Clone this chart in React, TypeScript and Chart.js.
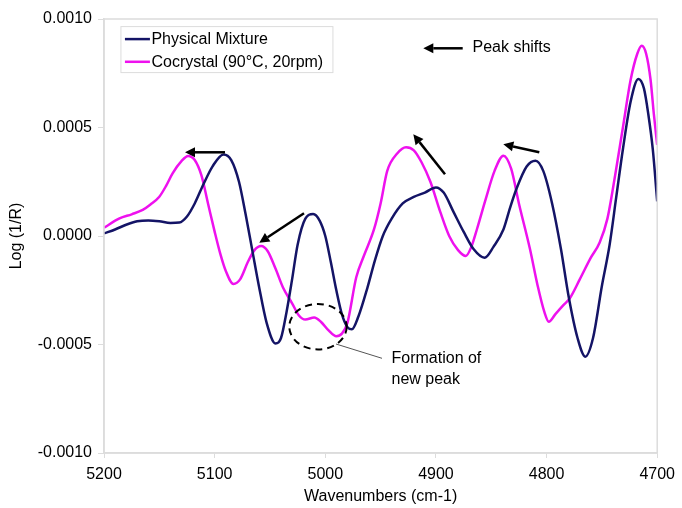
import React, { useEffect, useRef } from "react";
import { Chart, registerables } from "chart.js";

Chart.register(...registerables);

const mixtureWavenumbers = [
  5200, 5190, 5180, 5170, 5160, 5150, 5140, 5132, 5125, 5118, 5110, 5102, 5092, 5085, 5078, 5072, 5066, 5060, 5053,
  5045, 5040, 5035, 5030, 5025, 5018, 5011, 5005, 5000, 4995, 4990, 4985, 4980, 4976, 4970, 4962, 4955, 4948, 4940,
  4930, 4920, 4910, 4900, 4893, 4884, 4875, 4866, 4856, 4848, 4839, 4833, 4827, 4818, 4810, 4803, 4795, 4787, 4780,
  4772, 4765, 4758, 4750, 4743, 4737, 4731, 4724, 4717, 4712, 4708, 4704, 4700,
];
const mixtureValues = [
  0.000012, 0.00003, 0.000052, 0.000068, 0.000072, 0.000068, 0.00006, 0.000062, 0.00009, 0.00015, 0.00024, 0.00032,
  0.000376, 0.00035, 0.00025, 0.0001, -0.000065, -0.00023, -0.0004, -0.000495, -0.00047, -0.00035, -0.0002, -0.00004,
  0.00008, 0.000101, 0.00007, 0.0, -0.00012, -0.00025, -0.00036, -0.00042, -0.00043, -0.00037, -0.00024, -0.00011,
  0.0, 0.00008, 0.00015, 0.00018, 0.0002, 0.000224, 0.0002, 0.00011, 0.00002, -0.00006, -0.0001, -0.00005, 0.00003,
  0.00013, 0.00022, 0.00032, 0.000347, 0.0003, 0.00015, -0.00006, -0.00028, -0.00047, -0.000556, -0.00047, -0.00023,
  -0.00004, 0.00018, 0.0004, 0.00062, 0.000724, 0.00068, 0.00056, 0.0004, 0.00016,
];

const cocrystalWavenumbers = [
  5200, 5186, 5175, 5165, 5158, 5150, 5144, 5138, 5130, 5124, 5118, 5112, 5106, 5100, 5095, 5090, 5083, 5077, 5070,
  5064, 5058, 5052, 5045, 5038, 5030, 5024, 5018, 5010, 5004, 4997, 4990, 4985, 4980, 4972, 4965, 4956, 4950, 4944,
  4935, 4927, 4920, 4913, 4905, 4896, 4888, 4880, 4873, 4868, 4863, 4855, 4847, 4839, 4832, 4825, 4815, 4808, 4802,
  4798, 4792, 4785, 4779, 4770, 4760, 4752, 4745, 4738, 4731, 4724, 4718, 4714, 4710, 4706, 4703, 4700,
];
const cocrystalValues = [
  0.000038, 0.000081, 0.0001, 0.00012, 0.000145, 0.000181, 0.00023, 0.000289, 0.000345, 0.000369, 0.00035, 0.00028,
  0.00015, 0.00002, -0.00008, -0.00016, -0.000221, -0.0002, -0.00012, -0.000065, -0.000046, -0.00007, -0.00015,
  -0.00024, -0.00031, -0.000365, -0.000385, -0.000375, -0.000395, -0.000435, -0.000462, -0.00045, -0.0004, -0.00019,
  -0.00009, 0.00003, 0.00015, 0.0003, 0.00038, 0.000409, 0.000395, 0.00034, 0.00025, 0.00011, 0.0, -0.000065,
  -0.000092, -0.00005, 0.00003, 0.00017, 0.0003, 0.00037, 0.00031, 0.00015, -0.00006, -0.00023, -0.00035, -0.000395,
  -0.00036, -0.00032, -0.000287, -0.0002, -0.0001, -0.00003, 0.00008, 0.00028, 0.0005, 0.00072, 0.00084, 0.000877,
  0.00084, 0.00072, 0.00056, 0.00042,
];

const seriesNames = ["Physical Mixture", "Cocrystal (90°C, 20rpm)"];
const xTicks = [5200, 5100, 5000, 4900, 4800, 4700];
const yTicks = [-0.001, -0.0005, 0, 0.0005, 0.001];
const xTitle = "Wavenumbers (cm-1)";
const yTitle = "Log (1/R)";
const peakShiftLabel = "Peak shifts";
const newPeakLabel = ["Formation of", "new peak"];

const BLUE = "#141466";
const MAGENTA = "#ee11ee";
const FONT = "Liberation Sans, Arial, sans-serif";

function arrow(ctx: CanvasRenderingContext2D, x1: number, y1: number, x2: number, y2: number) {
  const ang = Math.atan2(y2 - y1, x2 - x1);
  const head = 10;
  const bx = x2 - head * Math.cos(ang);
  const by = y2 - head * Math.sin(ang);
  ctx.save();
  ctx.strokeStyle = "#000";
  ctx.fillStyle = "#000";
  ctx.lineWidth = 2.5;
  ctx.beginPath();
  ctx.moveTo(x1, y1);
  ctx.lineTo(bx, by);
  ctx.stroke();
  ctx.beginPath();
  ctx.moveTo(x2, y2);
  ctx.lineTo(bx + 5 * Math.sin(ang), by - 5 * Math.cos(ang));
  ctx.lineTo(bx - 5 * Math.sin(ang), by + 5 * Math.cos(ang));
  ctx.closePath();
  ctx.fill();
  ctx.restore();
}

const annotationPlugin = {
  id: "annotations",
  afterDraw(chart: any) {
    const ctx: CanvasRenderingContext2D = chart.ctx;
    const xs = chart.scales.x;
    const ys = chart.scales.y;
    const X = (v: number) => xs.getPixelForValue(v);
    const Y = (v: number) => ys.getPixelForValue(v);
    const area = chart.chartArea;

    // plot border
    ctx.save();
    ctx.strokeStyle = "#dcdcdc";
    ctx.lineWidth = 1.5;
    ctx.strokeRect(area.left, area.top, area.right - area.left, area.bottom - area.top);
    ctx.restore();

    // legend
    ctx.save();
    const lx = X(5184.7), ly = Y(0.000965);
    const lw = 212, lh = 46;
    ctx.fillStyle = "#fff";
    ctx.fillRect(lx, ly, lw, lh);
    ctx.strokeStyle = "#dcdcdc";
    ctx.lineWidth = 1;
    ctx.strokeRect(lx, ly, lw, lh);
    ctx.font = `16px ${FONT}`;
    ctx.textBaseline = "middle";
    const colors = [BLUE, MAGENTA];
    seriesNames.forEach((name, i) => {
      const cy = ly + 12.5 + i * 22.7;
      ctx.strokeStyle = colors[i];
      ctx.lineWidth = 2.5;
      ctx.beginPath();
      ctx.moveTo(lx + 4, cy);
      ctx.lineTo(lx + 29, cy);
      ctx.stroke();
      ctx.fillStyle = "#000";
      ctx.fillText(name, lx + 30.5, cy + 0.5);
    });
    ctx.restore();

    // arrows
    arrow(ctx, 225, 152.3, 185, 152.3);
    arrow(ctx, 304, 213.3, 259.3, 242.7);
    arrow(ctx, 445, 174.3, 413.3, 134.3);
    arrow(ctx, 539.3, 152.3, 503.3, 144.3);
    arrow(ctx, 462.7, 48.3, 423.3, 48.3);

    ctx.save();
    ctx.fillStyle = "#000";
    ctx.font = `16px ${FONT}`;
    ctx.textBaseline = "middle";
    ctx.fillText(peakShiftLabel, 472.5, 48);

    // dashed ellipse
    ctx.strokeStyle = "#000";
    ctx.lineWidth = 2;
    ctx.setLineDash([7, 5]);
    ctx.beginPath();
    ctx.ellipse(318, 326.7, 28.7, 22.7, 0, 0, Math.PI * 2);
    ctx.stroke();
    ctx.setLineDash([]);

    // leader line
    ctx.strokeStyle = "#555";
    ctx.lineWidth = 1;
    ctx.beginPath();
    ctx.moveTo(336, 344);
    ctx.lineTo(382, 358.3);
    ctx.stroke();

    ctx.fillText(newPeakLabel[0], 391.5, 358.5);
    ctx.fillText(newPeakLabel[1], 391.5, 380);
    ctx.restore();
  },
};

export default function App() {
  const ref = useRef<HTMLCanvasElement>(null);

  useEffect(() => {
    const canvas = ref.current;
    if (!canvas) return;
    const toPoints = (xs: number[], ys: number[]) => xs.map((x, i) => ({ x, y: ys[i] }));
    const chart = new Chart(canvas, {
      type: "line",
      data: {
        datasets: [
          {
            label: seriesNames[0],
            data: toPoints(mixtureWavenumbers, mixtureValues),
            borderColor: BLUE,
            borderWidth: 2.5,
            pointRadius: 0,
            cubicInterpolationMode: "monotone",
            fill: false,
          },
          {
            label: seriesNames[1],
            data: toPoints(cocrystalWavenumbers, cocrystalValues),
            borderColor: MAGENTA,
            borderWidth: 2.5,
            pointRadius: 0,
            cubicInterpolationMode: "monotone",
            fill: false,
          },
        ],
      },
      options: {
        animation: false,
        responsive: false,
        maintainAspectRatio: false,
        layout: { padding: { top: 19, right: 20, left: 0, bottom: 0 } },
        plugins: { legend: { display: false }, tooltip: { enabled: false } },
        scales: {
          x: {
            type: "linear",
            reverse: true,
            min: 4700,
            max: 5200,
            afterBuildTicks: (scale: any) => {
              scale.ticks = xTicks.map((v) => ({ value: v }));
            },
            afterFit: (scale: any) => {
              scale.height = 55;
            },
            ticks: {
              color: "#000",
              font: { family: FONT, size: 16 },
              padding: 7,
              maxRotation: 0,
              autoSkip: false,
              callback: (v: any) => String(v),
            },
            grid: { display: true, drawOnChartArea: false, drawTicks: true, tickLength: 5, color: "#dcdcdc" },
            border: { display: true, color: "#dcdcdc", width: 1.5 },
            title: {
              display: true,
              text: xTitle,
              color: "#000",
              font: { family: FONT, size: 16 },
              padding: { top: 0, bottom: 2 },
            },
          },
          y: {
            min: -0.001,
            max: 0.001,
            afterBuildTicks: (scale: any) => {
              scale.ticks = yTicks.map((v) => ({ value: v }));
            },
            afterFit: (scale: any) => {
              scale.width = 104;
            },
            ticks: {
              color: "#000",
              font: { family: FONT, size: 16 },
              padding: 6,
              autoSkip: false,
              callback: (v: any) => (Math.abs(v) < 1e-12 ? "0.0000" : Number(v).toFixed(4)),
            },
            grid: { display: true, drawOnChartArea: false, drawTicks: true, tickLength: 6, color: "#dcdcdc" },
            border: { display: true, color: "#dcdcdc", width: 1.5 },
            title: {
              display: true,
              text: yTitle,
              color: "#000",
              font: { family: FONT, size: 16 },
              padding: { top: 7, bottom: 0 },
            },
          },
        },
      },
      plugins: [annotationPlugin],
    });
    return () => chart.destroy();
  }, []);

  return (
    <div style={{ position: "fixed", left: 0, top: 0, width: 682, height: 508, background: "#fff" }}>
      <canvas ref={ref} width={682} height={508} style={{ width: 682, height: 508 }} />
    </div>
  );
}
